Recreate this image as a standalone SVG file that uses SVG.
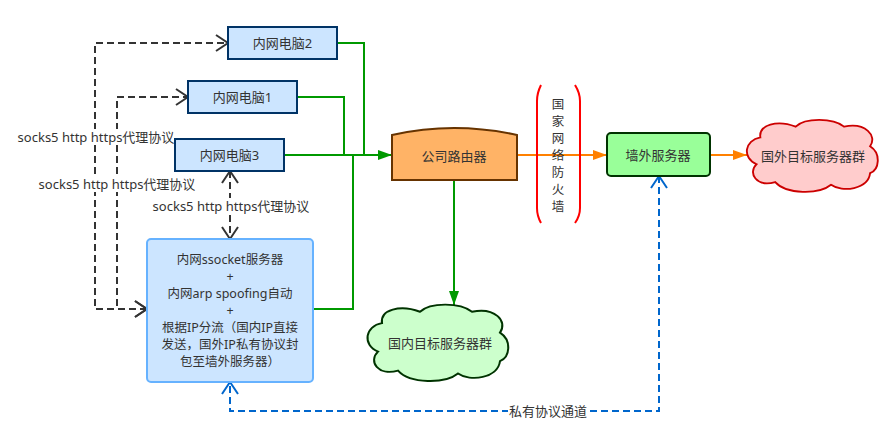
<svg xmlns="http://www.w3.org/2000/svg" width="892" height="434" viewBox="0 0 892 434">
<style>
text{font-family:"Noto Sans","Noto Sans CJK SC",sans-serif;font-size:13px;fill:#333;text-anchor:middle;dominant-baseline:central}
.sv{font-size:12.5px}
.pc{fill:#cce5ff;stroke:#003366;stroke-width:2}
.g{fill:none;stroke:#009900;stroke-width:2}
.o{fill:none;stroke:#ff8000;stroke-width:2}
.d{fill:none;stroke:#333;stroke-width:2;stroke-dasharray:7 4}
.b{fill:none;stroke:#0066cc;stroke-width:2;stroke-dasharray:7 4}
.bg{fill:#fff}
</style>
<defs>
<marker id="ag" markerUnits="userSpaceOnUse" markerWidth="16" markerHeight="12" refX="14" refY="6" orient="auto"><path d="M0,1 L14,6 L0,11 Z" fill="#009900"/></marker>
<marker id="ao" markerUnits="userSpaceOnUse" markerWidth="16" markerHeight="12" refX="14" refY="6" orient="auto"><path d="M0,1 L14,6 L0,11 Z" fill="#ff8000"/></marker>
<marker id="ad" markerUnits="userSpaceOnUse" markerWidth="16" markerHeight="20" refX="13" refY="9" orient="auto-start-reverse"><path d="M1,1 L13,9 L1,17" fill="none" stroke="#333" stroke-width="2"/></marker>
<marker id="ab" markerUnits="userSpaceOnUse" markerWidth="16" markerHeight="20" refX="13" refY="9" orient="auto-start-reverse"><path d="M1,1 L13,9 L1,17" fill="none" stroke="#0066cc" stroke-width="2"/></marker>
<path id="cloud" d="M15,17 C13,3 33,-3 53,5 C63,-5 93,-5 105,5 C128,0 141,15 133,27 C145,35 143,53 133,57 C131,75 103,79 91,70 C78,81 43,81 31,67 C11,73 1,57 11,47 C-5,40 -2,20 15,17 Z"/>
</defs>
<g id="connectors">
<path class="g" d="M337,43 H364 V155"/>
<path class="g" d="M297,97 H344 V155"/>
<path class="g" d="M313,309 H353 V155"/>
<path class="g" d="M284,155 H392" marker-end="url(#ag)"/>
<path class="g" d="M454,180 V305" marker-end="url(#ag)"/>
<path class="o" d="M517,155 H607" marker-end="url(#ao)"/>
<path class="o" d="M710,155 H747" marker-end="url(#ao)"/>
<path class="d" d="M147,309 H95 V43 H228" marker-start="url(#ad)" marker-end="url(#ad)"/>
<path class="d" d="M147,309 H117 V97 H188" marker-start="url(#ad)" marker-end="url(#ad)"/>
<path class="d" d="M230,171 V239" marker-start="url(#ad)" marker-end="url(#ad)"/>
<path class="b" d="M659,176 V411 H230 V382" marker-start="url(#ab)" marker-end="url(#ab)"/>
<rect class="bg" x="17" y="129" width="158" height="16"/>
<text x="96" y="137">socks5 http https代理协议</text>
<rect class="bg" x="38" y="176" width="159" height="16"/>
<text x="117" y="184">socks5 http https代理协议</text>
<rect class="bg" x="152" y="198" width="158" height="16"/>
<text x="231" y="206">socks5 http https代理协议</text>
<rect class="bg" x="508" y="403" width="80" height="16"/>
<text x="548" y="411">私有协议通道</text>
</g>
<g id="pc2"><rect class="pc" x="228" y="27" width="109" height="32"/><text x="282.5" y="43">内网电脑2</text></g>
<g id="pc1"><rect class="pc" x="188" y="81" width="109" height="32"/><text x="242.5" y="97">内网电脑1</text></g>
<g id="pc3"><rect class="pc" x="175" y="139" width="109" height="32"/><text x="229.5" y="155">内网电脑3</text></g>
<g id="server">
<rect x="147" y="239" width="166" height="143" rx="4" fill="#cce5ff" stroke="#66b2ff" stroke-width="2"/>
<text class="sv" x="230" y="259">内网ssocket服务器</text>
<text class="sv" x="230" y="276">+</text>
<text class="sv" x="230" y="293">内网arp spoofing自动</text>
<text class="sv" x="230" y="310">+</text>
<text class="sv" x="230" y="327">根据IP分流（国内IP直接</text>
<text class="sv" x="230" y="344">发送，国外IP私有协议封</text>
<text class="sv" x="230" y="361">包至墙外服务器）</text>
</g>
<g id="router">
<path d="M392,135 Q454,121 517,135 L517,180 L392,180 Z" fill="#ffb366" stroke="#663300" stroke-width="2"/>
<text x="454" y="156">公司路由器</text>
</g>
<g id="firewall">
<path d="M541,85 Q537,93 537,101 L537,208 Q537,216 541,223" fill="none" stroke="#ff0000" stroke-width="2"/>
<path d="M575,85 Q580,93 580,101 L580,208 Q580,216 575,223" fill="none" stroke="#ff0000" stroke-width="2"/>
<text class="sv" x="558" y="104">国</text>
<text class="sv" x="558" y="121">家</text>
<text class="sv" x="558" y="138">网</text>
<text class="sv" x="558" y="155">络</text>
<text class="sv" x="558" y="172">防</text>
<text class="sv" x="558" y="189">火</text>
<text class="sv" x="558" y="206">墙</text>
</g>
<g id="outside">
<rect x="607" y="133" width="103" height="43" rx="4" fill="#99ff99" stroke="#003300" stroke-width="2"/>
<text x="658" y="155">墙外服务器</text>
</g>
<g id="foreign">
<use href="#cloud" transform="translate(746.4,122.2) scale(0.93,0.894)" fill="#ffcccc" stroke="#cc0000" stroke-width="2" vector-effect="non-scaling-stroke"/>
<text x="813" y="156">国外目标服务器群</text>
</g>
<g id="domestic">
<use href="#cloud" transform="translate(367,307) scale(1,0.95)" fill="#ccffcc" stroke="#003300" stroke-width="2"/>
<text x="440" y="343">国内目标服务器群</text>
</g>
</svg>
